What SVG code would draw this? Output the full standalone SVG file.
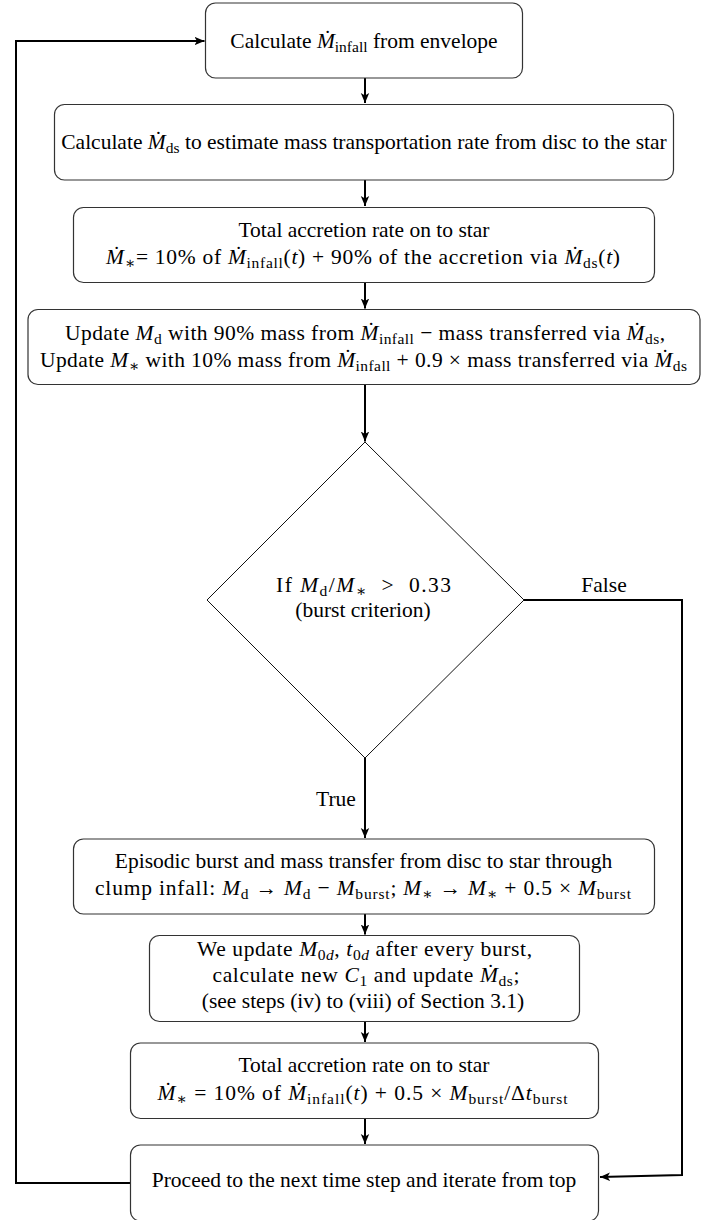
<svg xmlns="http://www.w3.org/2000/svg" width="719" height="1220" viewBox="0 0 719 1220">
<style>
.t{font-family:"Liberation Serif","DejaVu Serif",serif;font-size:21.5px;fill:#000;text-anchor:middle}
.i{font-style:italic}
.s{font-size:15.5px}
.box{fill:#fff;stroke:#333;stroke-width:1.2}
.dia{fill:#fff;stroke:#111;stroke-width:1}
.c{fill:none;stroke:#000;stroke-width:2}
</style>
<defs>
<marker id="ah" markerWidth="12" markerHeight="10" refX="10" refY="5" orient="auto" markerUnits="userSpaceOnUse">
<path d="M0,0.8 L10,5 L0,9.2 L2.5,5 Z" fill="#000"/>
</marker>
</defs>
<rect width="719" height="1220" fill="#fff"/>
<g id="connectors">
<line class="c" x1="365" y1="78" x2="365" y2="103" marker-end="url(#ah)"/>
<line class="c" x1="365" y1="180" x2="365" y2="206" marker-end="url(#ah)"/>
<line class="c" x1="365" y1="282.5" x2="365" y2="308.5" marker-end="url(#ah)"/>
<line class="c" x1="365" y1="384.5" x2="365" y2="441.5" marker-end="url(#ah)"/>
<line class="c" x1="365" y1="758" x2="365" y2="838" marker-end="url(#ah)"/>
<line class="c" x1="365" y1="914" x2="365" y2="934.5" marker-end="url(#ah)"/>
<line class="c" x1="365" y1="1021.5" x2="365" y2="1042" marker-end="url(#ah)"/>
<line class="c" x1="365" y1="1118.5" x2="365" y2="1144" marker-end="url(#ah)"/>
<polyline class="c" points="524,600 682,600 682,1175 600,1177" marker-end="url(#ah)"/>
<polyline class="c" points="130.5,1183 16,1183 16,41 204.5,41" marker-end="url(#ah)"/>
<text class="t" x="604" y="592">False</text>
<text class="t" x="336" y="806">True</text>
</g>
<g id="n1">
<rect class="box" x="205.5" y="3" width="317" height="75" rx="10"/>
<text class="t" x="364" y="47.5">Calculate <tspan class="i">Ṁ</tspan><tspan class="s" dy="4">infall</tspan><tspan dy="-4"> from envelope</tspan></text>
</g>
<g id="n2">
<rect class="box" x="54.5" y="104.5" width="619" height="75.5" rx="10"/>
<text class="t" x="364" y="148.5">Calculate <tspan class="i">Ṁ</tspan><tspan class="s" dy="4">ds</tspan><tspan dy="-4"> to estimate mass transportation rate from disc to the star</tspan></text>
</g>
<g id="n3">
<rect class="box" x="73.5" y="207.5" width="581" height="75" rx="10"/>
<text class="t" x="364" y="237">Total accretion rate on to star</text>
<text class="t" x="363" y="264" textLength="514" lengthAdjust="spacing"><tspan class="i">Ṁ</tspan><tspan class="s" dy="4">∗</tspan><tspan dy="-4">= 10% of </tspan><tspan class="i">Ṁ</tspan><tspan class="s" dy="4">infall</tspan><tspan dy="-4">(</tspan><tspan class="i">t</tspan>) + 90% of the accretion via <tspan class="i">Ṁ</tspan><tspan class="s" dy="4">ds</tspan><tspan dy="-4">(</tspan><tspan class="i">t</tspan>)</text>
</g>
<g id="n4">
<rect class="box" x="28" y="309.5" width="672" height="75" rx="10"/>
<text class="t" x="365" y="340" textLength="600" lengthAdjust="spacing">Update <tspan class="i">M</tspan><tspan class="s" dy="4">d</tspan><tspan dy="-4"> with 90% mass from </tspan><tspan class="i">Ṁ</tspan><tspan class="s" dy="4">infall</tspan><tspan dy="-4"> − mass transferred via </tspan><tspan class="i">Ṁ</tspan><tspan class="s" dy="4">ds</tspan><tspan dy="-4">,</tspan></text>
<text class="t" x="363.5" y="367" textLength="647" lengthAdjust="spacing">Update <tspan class="i">M</tspan><tspan class="s" dy="4">∗</tspan><tspan dy="-4"> with 10% mass from </tspan><tspan class="i">Ṁ</tspan><tspan class="s" dy="4">infall</tspan><tspan dy="-4"> + 0.9 × mass transferred via </tspan><tspan class="i">Ṁ</tspan><tspan class="s" dy="4">ds</tspan></text>
</g>
<g id="n5">
<polygon class="dia" points="365,442 524,600 365,758 207,600"/>
<text class="t" x="363.5" y="592" textLength="175" lengthAdjust="spacing">If <tspan class="i">M</tspan><tspan class="s" dy="4">d</tspan><tspan dy="-4">/</tspan><tspan class="i">M</tspan><tspan class="s" dy="4">∗</tspan><tspan dy="-4">&#160;&#160;&gt;&#160;&#160;0.33</tspan></text>
<text class="t" x="363" y="617">(burst criterion)</text>
</g>
<g id="n6">
<rect class="box" x="73.5" y="839" width="581" height="75" rx="10"/>
<text class="t" x="363.5" y="868">Episodic burst and mass transfer from disc to star through</text>
<text class="t" x="363" y="895" textLength="536" lengthAdjust="spacing">clump infall: <tspan class="i">M</tspan><tspan class="s" dy="4">d</tspan><tspan dy="-4"> → </tspan><tspan class="i">M</tspan><tspan class="s" dy="4">d</tspan><tspan dy="-4"> − </tspan><tspan class="i">M</tspan><tspan class="s" dy="4">burst</tspan><tspan dy="-4">; </tspan><tspan class="i">M</tspan><tspan class="s" dy="4">∗</tspan><tspan dy="-4"> → </tspan><tspan class="i">M</tspan><tspan class="s" dy="4">∗</tspan><tspan dy="-4"> + 0.5 × </tspan><tspan class="i">M</tspan><tspan class="s" dy="4">burst</tspan></text>
</g>
<g id="n7">
<rect class="box" x="149.5" y="935.5" width="430" height="86" rx="10"/>
<text class="t" x="364.5" y="956" textLength="335" lengthAdjust="spacing">We update <tspan class="i">M</tspan><tspan class="s" dy="4">0<tspan class="i">d</tspan></tspan><tspan dy="-4">, </tspan><tspan class="i">t</tspan><tspan class="s" dy="4">0<tspan class="i">d</tspan></tspan><tspan dy="-4"> after every burst,</tspan></text>
<text class="t" x="366" y="982" textLength="307" lengthAdjust="spacing">calculate new <tspan class="i">C</tspan><tspan class="s" dy="4">1</tspan><tspan dy="-4"> and update </tspan><tspan class="i">Ṁ</tspan><tspan class="s" dy="4">ds</tspan><tspan dy="-4">;</tspan></text>
<text class="t" x="363" y="1008">(see steps (iv) to (viii) of Section 3.1)</text>
</g>
<g id="n8">
<rect class="box" x="130.5" y="1043" width="468" height="75.5" rx="10"/>
<text class="t" x="364" y="1072">Total accretion rate on to star</text>
<text class="t" x="362.5" y="1100" textLength="410" lengthAdjust="spacing"><tspan class="i">Ṁ</tspan><tspan class="s" dy="4">∗</tspan><tspan dy="-4"> = 10% of </tspan><tspan class="i">Ṁ</tspan><tspan class="s" dy="4">infall</tspan><tspan dy="-4">(</tspan><tspan class="i">t</tspan>) + 0.5 × <tspan class="i">M</tspan><tspan class="s" dy="4">burst</tspan><tspan dy="-4">/Δ</tspan><tspan class="i">t</tspan><tspan class="s" dy="4">burst</tspan></text>
</g>
<g id="n9">
<rect class="box" x="130.5" y="1145" width="468" height="76" rx="10"/>
<text class="t" x="364" y="1187">Proceed to the next time step and iterate from top</text>
</g>
</svg>
